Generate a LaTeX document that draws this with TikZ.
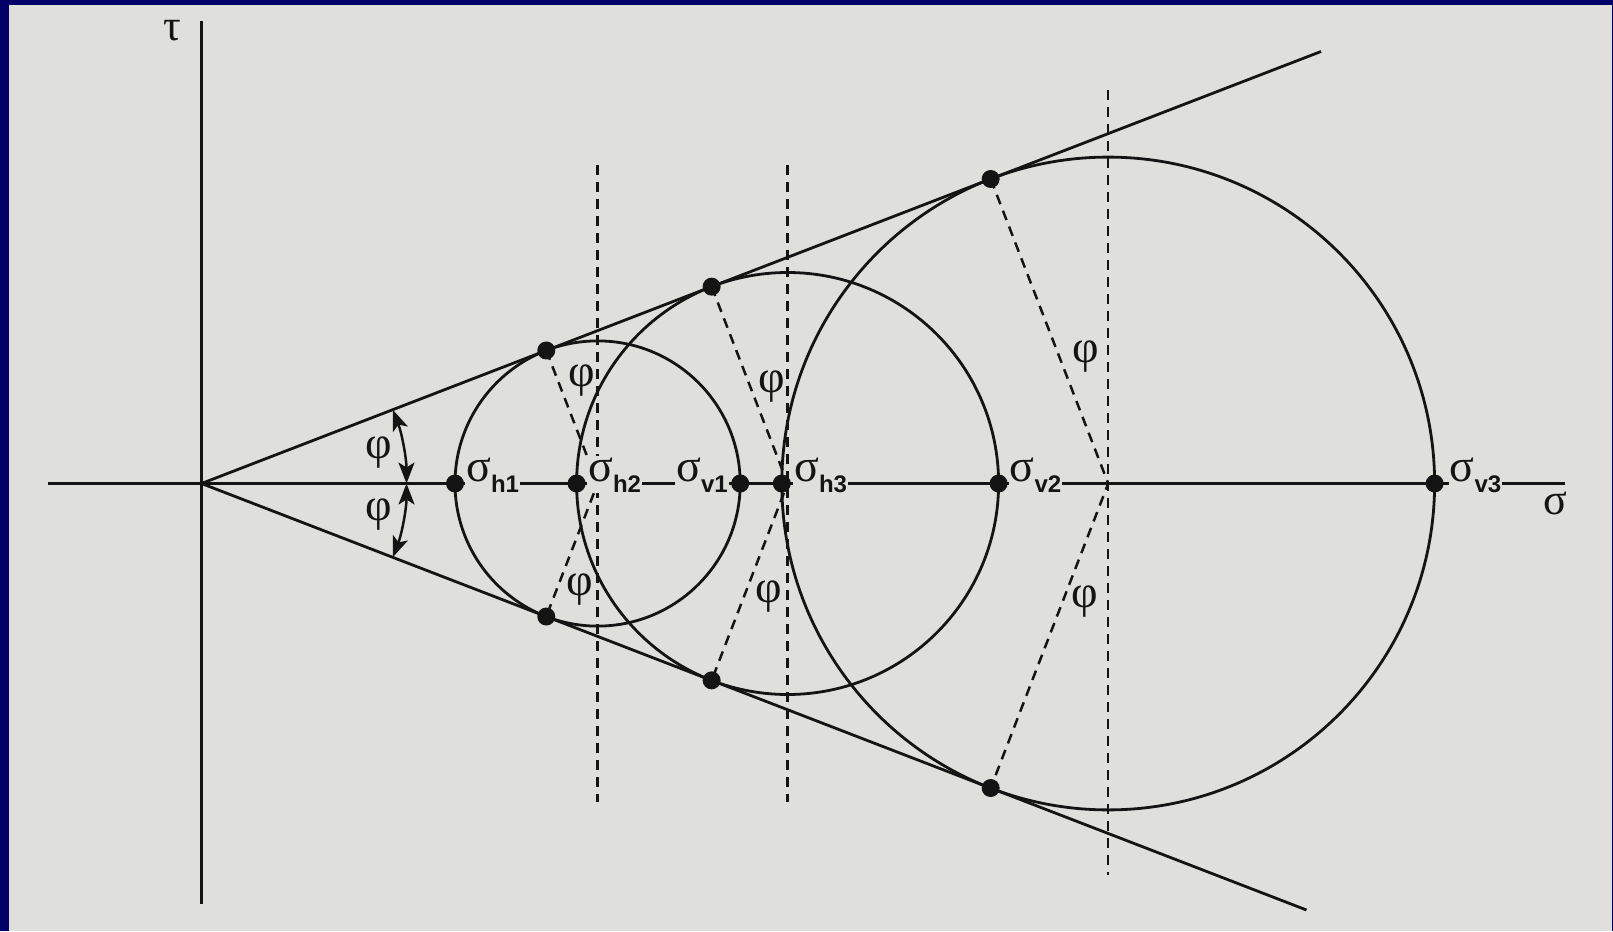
\documentclass[tikz,border=0pt]{standalone}
\usepackage{fontspec}
\setmainfont{Liberation Serif}
\newfontfamily\subfont{Liberation Sans}
\usetikzlibrary{arrows.meta}
\definecolor{navy}{RGB}{0,0,102}
\definecolor{bg}{RGB}{223,223,219}
\definecolor{ink}{RGB}{20,20,20}
\tikzset{
  solidline/.style={draw=ink,line width=2.8pt},
  dashline/.style={draw=ink,line width=2.5pt,dash pattern=on 10pt off 7pt},
  dot/.style={circle,fill=ink,inner sep=0pt,minimum size=18pt},
  sig/.style={fill=bg,inner sep=1pt,text=ink},
  philab/.style={text=ink,inner sep=0pt,font=\fontsize{46}{48}\selectfont},
  axlab/.style={text=ink,inner sep=0pt,font=\fontsize{44}{46}\selectfont},
  dblarrow/.style={draw=ink,line width=2.5pt,{Stealth[length=21pt,width=16pt,inset=5pt]}-{Stealth[length=21pt,width=16pt,inset=5pt]}}
}
\newcommand{\sglab}[1]{{\fontsize{46}{48}\selectfont σ}\raisebox{-11pt}{\subfont\bfseries\fontsize{24}{26}\selectfont #1}}
\begin{document}
\begin{tikzpicture}[x=1pt,y=-1pt]
\useasboundingbox (0,0) rectangle (1613,931);
\fill[navy] (0,0) rectangle (1613,931);
\fill[bg] (9,5) rectangle (1611.5,931);

% key points
\coordinate (O) at (201.5,483.5);
\coordinate (Cax) at (48.3,483.5);
\coordinate (Sax) at (1565,483.5);
\coordinate (Ttop) at (201.5,21.5);
\coordinate (Tbot) at (201.5,904);
\coordinate (Uend) at (1321,51.5);
\coordinate (Lend) at (1306.5,910);
\coordinate (C1) at (597.6,483.5);
\coordinate (C2) at (787.6,483.5);
\coordinate (C3) at (1108.2,483.5);
\coordinate (T1u) at (546.26,350.47);
\coordinate (T1d) at (546.26,616.53);
\coordinate (T2u) at (711.64,286.65);
\coordinate (T2d) at (711.64,680.35);
\coordinate (T3u) at (990.68,178.98);
\coordinate (T3d) at (990.68,788.02);
\coordinate (V1t) at (597.6,165);
\coordinate (V1b) at (597.6,802);
\coordinate (V2t) at (787.6,165);
\coordinate (V2b) at (787.6,802);
\coordinate (V3t) at (1108.2,90);
\coordinate (V3b) at (1108.2,875);
\coordinate (A0) at (406.5,483.5);

% axes
\draw[solidline] (Cax) -- (Sax);
\draw[solidline] (Ttop) -- (Tbot);
% tangent lines
\draw[solidline] (O) -- (Uend);
\draw[solidline] (O) -- (Lend);
% circles
\draw[solidline] (C1) circle[radius=142.6];
\draw[solidline] (C2) circle[radius=211.0];
\draw[solidline] (C3) circle[radius=326.4];
% vertical dashed lines
\draw[dashline] (V1t) -- (V1b);
\draw[dashline] (V2t) -- (V2b);
\draw[dashline] (V3t) -- (V3b);
% radius dashed lines
\draw[dashline] (T1u) -- (C1) -- (T1d);
\draw[dashline] (T2u) -- (C2) -- (T2d);
\draw[dashline] (T3u) -- (C3) -- (T3d);
% angle arcs
\draw[dblarrow] (A0) arc[start angle=0,end angle=-21.1,radius=205];
\draw[dblarrow] (A0) arc[start angle=0,end angle=21.1,radius=205];

% labels on the sigma axis
\node[sig,anchor=base west] (lh1) at (465,481) {\sglab{h1}};
\node[sig,anchor=base west] (lh2) at (587,481) {\sglab{h2}};
\node[sig,anchor=base east] (lv1) at (729,481) {\sglab{v1}};
\node[sig,anchor=base west] (lh3) at (793,481) {\sglab{h3}};
\node[sig,anchor=base west] (lv2) at (1008.5,481) {\sglab{v2}};
\node[sig,anchor=base west] (lv3) at (1448.5,481) {\sglab{v3}};

% axis labels
\node[axlab] (tau) at (172,31) {τ};
\node[axlab] (sigma) at (1555,503) {σ};

% phi labels
\node[philab] (pa1) at (379,453) {φ};
\node[philab] (pa2) at (379,515) {φ};
\node[philab] (p1u) at (582,381) {φ};
\node[philab] (p1d) at (580,590) {φ};
\node[philab] (p2u) at (771.7,387) {φ};
\node[philab] (p2d) at (768.3,596.7) {φ};
\node[philab] (p3u) at (1086,357) {φ};
\node[philab] (p3d) at (1085,602) {φ};

% dots
\foreach \p in {T1u,T1d,T2u,T2d,T3u,T3d}
  \node[dot] at (\p) {};
\node[dot] (sh1) at (455.0,483.5) {};
\node[dot] (sh2) at (576.6,483.5) {};
\node[dot] (sv1) at (740.2,483.5) {};
\node[dot] (sh3) at (781.8,483.5) {};
\node[dot] (sv2) at (998.6,483.5) {};
\node[dot] (sv3) at (1434.6,483.5) {};
\end{tikzpicture}
\end{document}
